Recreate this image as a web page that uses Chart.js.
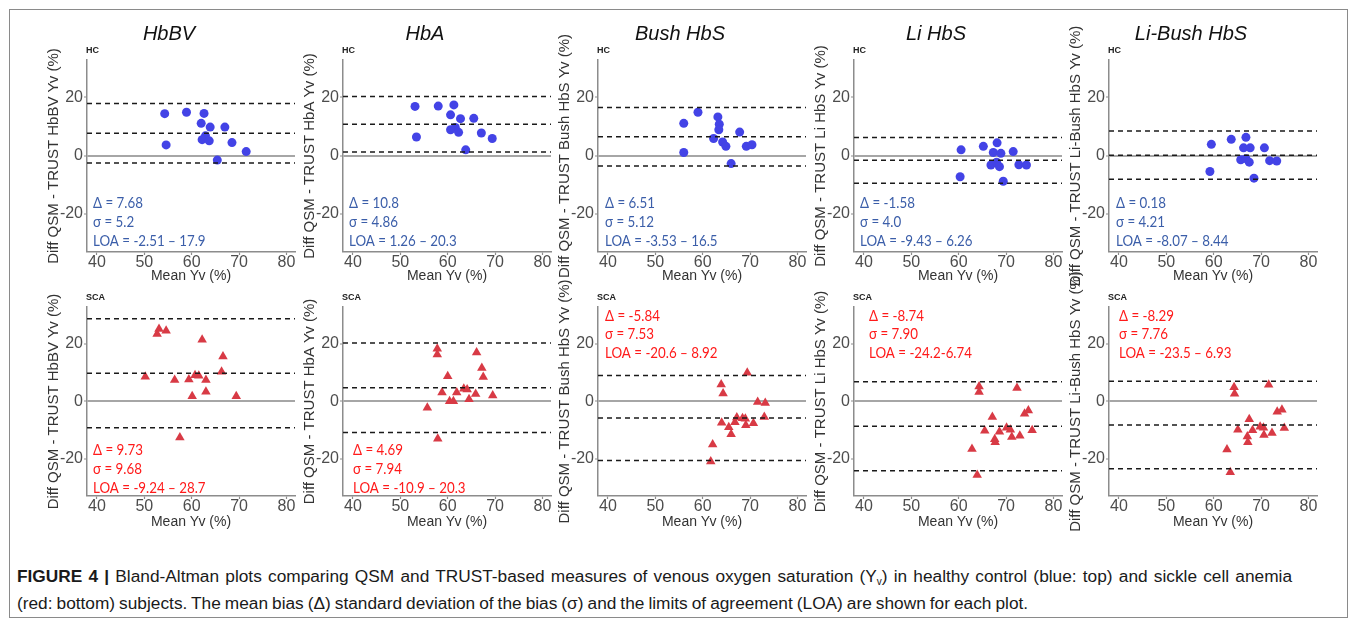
<!DOCTYPE html>
<html>
<head>
<meta charset="utf-8">
<script src="https://cdn.jsdelivr.net/npm/chart.js@4.4.1/dist/chart.umd.min.js"></script>
<style>
  body { margin: 0; background: #fff; width: 1355px; height: 623px; overflow: hidden; position: relative; font-family: "Liberation Sans", Arial, sans-serif; }
  canvas { position: absolute; }
  #frame { position: absolute; left: 9px; top: 9px; width: 1337px; height: 607px; border: 1px solid #8a8a8a; }
  #caption { position: absolute; left: 17px; top: 563px; font-size: 17.3px; line-height: 27px; color: #1a1a1a; white-space: nowrap; }
  #caption sub { font-size: 10px; line-height: 0; vertical-align: -3px; }
  #cap1 { word-spacing: 1.4px; }
  #cap2 { word-spacing: -0.8px; }
</style>
</head>
<body>
<div id="frame"></div>
<div id="caption"><span id="cap1"><b>FIGURE 4 |</b> Bland-Altman plots comparing QSM and TRUST-based measures of venous oxygen saturation (Y<sub>v</sub>) in healthy control (blue: top) and sickle cell anemia</span><br><span id="cap2">(red: bottom) subjects. The mean bias (Δ) standard deviation of the bias (σ) and the limits of agreement (LOA) are shown for each plot.</span></div>
<script>
// panels
const methods = ["HbBV", "HbA", "Bush HbS", "Li HbS", "Li-Bush HbS"];
const xTicks = [40, 50, 60, 70, 80];
const yTicks = [-20, 0, 20];

// healthy controls (HC), mean Yv vs difference
const hcMean = [
  [54.3, 54.6, 58.9, 62.6, 62.0, 63.9, 67.0, 62.9, 62.2, 63.7, 68.5, 71.5, 65.4],
  [53.1, 53.4, 58.0, 61.3, 60.6, 62.7, 65.5, 61.6, 60.6, 62.3, 67.1, 69.4, 63.8],
  [56.0, 56.0, 59.0, 63.2, 63.5, 63.4, 67.8, 62.3, 64.2, 64.9, 69.2, 70.4, 66.0],
  [60.5, 60.3, 65.2, 68.1, 67.3, 68.9, 71.5, 66.8, 68.0, 68.6, 72.7, 74.3, 69.4],
  [59.5, 59.2, 63.7, 66.8, 66.3, 67.7, 70.7, 65.7, 66.8, 67.5, 71.8, 73.3, 68.5]
];
const hcDiff = [
  [14.4, 3.7, 14.9, 14.5, 11.1, 9.8, 9.8, 6.8, 5.5, 5.1, 4.5, 1.4, -1.5],
  [16.9, 6.4, 17.0, 17.4, 14.0, 12.7, 12.8, 9.7, 8.9, 8.0, 7.8, 5.9, 2.0],
  [11.1, 1.1, 14.9, 13.3, 10.8, 8.9, 8.1, 5.9, 4.7, 3.2, 3.2, 3.75, -2.7],
  [2.0, -7.2, 3.2, 4.4, 1.1, 0.8, 1.4, -3.2, -2.2, -3.75, -3.1, -3.2, -8.75],
  [3.9, -5.4, 5.6, 6.3, 2.7, 2.7, 2.7, -1.4, -1.0, -2.2, -1.7, -1.8, -7.7]
];
const hcBias = [7.68, 10.8, 6.51, -1.58, 0.18];
const hcSigma = ["5.2", "4.86", "5.12", "4.0", "4.21"];
const hcLow = [-2.51, 1.26, -3.53, -9.43, -8.07];
const hcHigh = [17.9, 20.3, 16.5, 6.26, 8.44];
const hcLoaText = ["-2.51 – 17.9", "1.26 – 20.3", "-3.53 – 16.5", "-9.43 – 6.26", "-8.07 – 8.44"];

// sickle cell anemia (SCA)
const scaMean = [
  [50.2, 52.7, 53.1, 54.6, 56.4, 57.5, 59.4, 60.1, 60.7, 61.5, 62.2, 63.0, 63.0, 66.3, 66.6, 69.4],
  [55.7, 57.8, 57.8, 57.9, 58.8, 60.0, 60.4, 61.2, 61.9, 63.4, 64.1, 64.5, 65.9, 66.1, 67.2, 67.5, 69.5],
  [61.7, 62.1, 63.9, 64.3, 64.0, 65.5, 66.0, 66.8, 67.2, 68.4, 69.0, 69.1, 69.4, 70.7, 71.6, 73.2, 73.0],
  [62.8, 63.9, 64.3, 64.3, 65.5, 67.1, 67.6, 67.7, 68.6, 70.1, 70.9, 71.2, 72.3, 72.9, 73.9, 74.7, 75.5],
  [62.8, 63.5, 64.3, 64.4, 65.1, 67.5, 67.1, 67.2, 68.2, 69.8, 70.5, 70.6, 71.6, 72.3, 73.4, 74.4, 74.9]
];
const scaDiff = [
  [8.5, 23.4, 25.1, 24.5, 7.4, -12.6, 7.6, 1.7, 9.0, 8.9, 21.4, 7.4, 3.3, 10.3, 15.6, 1.7],
  [-2.3, 18.3, 16.3, -13.1, 3.0, 8.7, 0, 0, 3.0, 4.3, 4.1, 0.7, 2.5, 17.0, 11.6, 8.4, 2.0],
  [-21.0, -15.1, 5.8, 2.7, -7.5, -9.1, -11.5, -7.3, -5.7, -5.9, -6.1, -8.4, 9.9, -7.7, -0.3, -0.6, -5.5],
  [-16.6, -25.7, 5.1, 3.2, -10.3, -5.5, -13.2, -14.3, -10.6, -9.2, -9.9, -12.5, 4.6, -12.0, -4.4, -3.2, -10.1],
  [-16.8, -24.7, 4.9, 2.6, -9.9, -6.3, -12.3, -14.3, -10.1, -8.9, -9.2, -11.8, 5.7, -11.1, -3.7, -3.0, -9.3]
];
const scaBias = [9.73, 4.69, -5.84, -8.74, -8.29];
const scaSigma = ["9.68", "7.94", "7.53", "7.90", "7.76"];
const scaLow = [-9.24, -10.9, -20.6, -24.2, -23.5];
const scaHigh = [28.7, 20.3, 8.92, 6.74, 6.93];
const scaLoaText = ["-9.24 – 28.7", "-10.9 – 20.3", "-20.6 – 8.92", "-24.2-6.74", "-23.5 – 6.93"];

// layout
const X_MIN = 37.9, X_MAX = 81.8, Y_MIN = -33, Y_MAX = 32.8;
const axisLeft = [87, 343, 598, 854, 1109];
const hcTextDx = [6, 6, 7, 6, 7];
const scaTextDx = [6, 10, 7, 15, 10];
const scaTextTop = [false, false, true, true, true];
const AXIS_GREY = "#8c8c8c";

const statsText = {
  id: "statsText",
  afterDatasetsDraw(chart, args, opts) {
    const ctx = chart.ctx, area = chart.chartArea;
    ctx.save();
    ctx.textAlign = "left";
    ctx.textBaseline = "middle";
    ctx.fillStyle = "#222";
    ctx.font = 'bold 9px "Liberation Sans", Arial';
    ctx.fillText(opts.group, area.left - 1, area.top - 9);
    ctx.fillStyle = opts.color;
    ctx.font = '15.5px Lato, "Open Sans", sans-serif';
    const rows = opts.atTop ? [8.5, 27, 45.5] : [143, 162, 180.5];
    // squeeze a little so the Lato text matches the narrower original face
    const sx = 0.86;
    opts.lines.forEach((t, k) => {
      ctx.save();
      ctx.translate(area.left + opts.dx, area.top + rows[k]);
      ctx.scale(sx, 1);
      ctx.fillText(t, 0, 0);
      ctx.restore();
    });
    ctx.restore();
  }
};

function hline(y) {
  return {
    data: [{x: X_MIN, y: y}, {x: X_MAX, y: y}],
    showLine: true, pointRadius: 0, borderColor: "#1a1a1a", borderWidth: 1.5,
    borderDash: [5, 4], fill: false
  };
}

function makePanel(i, top) {
  const isTop = top;
  const mean = isTop ? hcMean[i] : scaMean[i];
  const diff = isTop ? hcDiff[i] : scaDiff[i];
  const points = mean.map((m, k) => ({x: m, y: diff[k]}));
  const bias = isTop ? hcBias[i] : scaBias[i];
  const low = isTop ? hcLow[i] : scaLow[i];
  const high = isTop ? hcHigh[i] : scaHigh[i];
  const sigma = isTop ? hcSigma[i] : scaSigma[i];
  const loa = isTop ? hcLoaText[i] : scaLoaText[i];

  const canvas = document.createElement("canvas");
  const left = axisLeft[i] - 44;
  const w = 262, h = isTop ? 285 : 270;
  const t = isTop ? 10 : 265;
  canvas.width = w; canvas.height = h;
  canvas.style.left = left + "px";
  canvas.style.top = t + "px";
  canvas.style.width = w + "px";
  canvas.style.height = h + "px";
  document.body.appendChild(canvas);

  new Chart(canvas.getContext("2d"), {
    type: "scatter",
    data: {
      datasets: [
        hline(high), hline(bias), hline(low),
        {
          data: points,
          pointStyle: isTop ? "circle" : "triangle",
          pointRadius: isTop ? 4.5 : 5.5,
          backgroundColor: isTop ? "#4343e6" : "#d83a45",
          borderWidth: 0
        }
      ]
    },
    options: {
      responsive: false,
      animation: false,
      devicePixelRatio: 1,
      layout: {padding: {left: 0, right: 10, top: isTop ? 0 : 42, bottom: 0}},
      plugins: {
        legend: {display: false},
        tooltip: {enabled: false},
        title: {
          display: isTop,
          text: methods[i],
          color: "#111",
          font: {family: '"Liberation Sans", Arial', size: 20, style: "italic", weight: "normal"},
          padding: {top: 12, bottom: 14}
        },
        statsText: {
          group: isTop ? "HC" : "SCA",
          color: isTop ? "#3b5ea9" : "#ff1a1a",
          dx: isTop ? hcTextDx[i] : scaTextDx[i],
          atTop: isTop ? false : scaTextTop[i],
          lines: ["Δ = " + bias, "σ = " + sigma, "LOA = " + loa]
        }
      },
      scales: {
        x: {
          type: "linear", min: X_MIN, max: X_MAX,
          afterBuildTicks: s => { s.ticks = xTicks.map(v => ({value: v})); },
          afterFit: s => { s.height = isTop ? 43 : 39; },
          grid: {drawOnChartArea: false, color: "rgba(0,0,0,0)", tickColor: AXIS_GREY, tickLength: 3, tickWidth: 1.2},
          border: {color: AXIS_GREY, width: 1.5},
          ticks: {color: "#4d4d4d", padding: 0, font: {family: '"Liberation Sans", Arial', size: 16, lineHeight: 1}, maxRotation: 0},
          title: {
            display: true, text: "Mean Yv (%)", color: "#333",
            font: {family: '"Liberation Sans", Arial', size: 14},
            padding: {top: 0, bottom: isTop ? 10.6 : 4.6}
          }
        },
        y: {
          type: "linear", min: Y_MIN, max: Y_MAX,
          afterBuildTicks: s => { s.ticks = yTicks.map(v => ({value: v})); },
          afterFit: s => { s.width = 44; },
          grid: {
            color: c => c.tick && c.tick.value === 0 ? "#a6a6a6" : "rgba(0,0,0,0)",
            lineWidth: c => c.tick && c.tick.value === 0 ? 2 : 0,
            tickColor: AXIS_GREY, tickLength: 3, tickWidth: 1.2
          },
          border: {color: AXIS_GREY, width: 1.5},
          ticks: {color: "#4d4d4d", padding: 1, font: {family: '"Liberation Sans", Arial', size: 16}},
          title: {
            display: true, text: "Diff QSM - TRUST " + methods[i] + " Yv (%)", color: "#333",
            font: {family: '"Liberation Sans", Arial', size: 15},
            padding: {top: 1.5, bottom: 0}
          }
        }
      }
    },
    plugins: [statsText]
  });
}

for (let i = 0; i < 5; i++) makePanel(i, true);
for (let i = 0; i < 5; i++) makePanel(i, false);
</script>
</body>
</html>
